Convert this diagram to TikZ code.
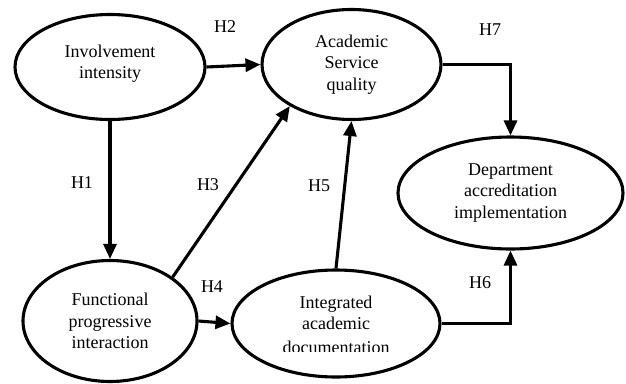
\documentclass[tikz,border=0pt]{standalone}
\usepackage{fontspec}
\setmainfont{Liberation Serif}
\usepackage{trimclip}
\usetikzlibrary{shapes.geometric,arrows.meta}
\begin{document}
\begin{tikzpicture}[x=1pt,y=-1pt,
  cons/.style={draw, ellipse, line width=3.1pt, inner sep=0pt, align=center,
    font=\fontsize{18}{21.5}\selectfont},
  link/.style={line width=3.1pt, -{Triangle[length=15pt,width=13pt]}},
  hyp/.style={font=\fontsize{18}{21.5}\selectfont, inner sep=0pt}]
\useasboundingbox (0,0) rectangle (626,383);
\node[cons, minimum width=190pt, minimum height=105pt, text depth=10pt] (inv) at (110,67) {Involvement\\intensity};
\node[cons, minimum width=179pt, minimum height=110pt] (asq) at (351.5,64.5) {Academic\\Service\\quality};
\node[cons, minimum width=225pt, minimum height=112pt] (dep) at (510.5,193) {Department\\accreditation\\implementation};
\node[cons, minimum width=174pt, minimum height=121pt] (fun) at (110,321) {Functional\\progressive\\interaction};
\node[cons, minimum width=208pt, minimum height=107pt] (int) at (336,323.5) {Integrated\\academic\\\clipbox{0pt 2pt 0pt 0pt}{documentation}};
\draw[link] (inv.east) -- (asq.west);
\draw[link] (inv.south) -- (fun.north);
\draw[link] (fun.35) -- (asq.214);
\draw[link] (fun.east) -- (int.west);
\draw[link] (int.north) -- (asq.south);
\draw[link] (asq.east) -| (dep.north);
\draw[link] (int.east) -| (dep.south);
\node[hyp] (h1) at (82,183) {H1};
\node[hyp] (h2) at (225,27) {H2};
\node[hyp] (h3) at (208,185) {H3};
\node[hyp] (h4) at (212,287) {H4};
\node[hyp] (h5) at (319,186) {H5};
\node[hyp] (h6) at (480,283) {H6};
\node[hyp] (h7) at (490,30) {H7};
\end{tikzpicture}
\end{document}
